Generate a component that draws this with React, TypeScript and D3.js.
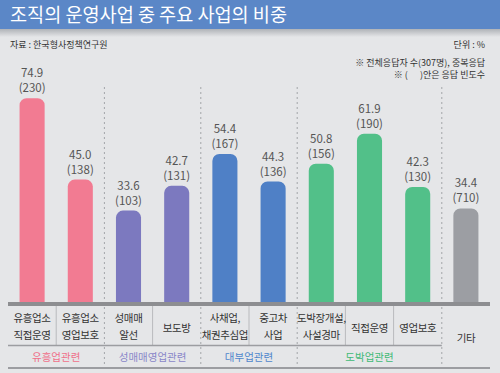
import { useMemo } from "react";
import * as d3 from "d3";

// values
const categories = [
  "유흥업소\n직접운영",
  "유흥업소\n영업보호",
  "성매매\n알선",
  "보도방",
  "사채업,\n채권추심업",
  "중고차\n사업",
  "도박장개설,\n사설경마",
  "직접운영",
  "영업보호",
  "기타",
];
const shares = [74.9, 45.0, 33.6, 42.7, 54.4, 44.3, 50.8, 61.9, 42.3, 34.4];
const counts = [230, 138, 103, 131, 167, 136, 156, 190, 130, 710];
const groupOf = [0, 0, 1, 1, 2, 2, 3, 3, 3, 4];
const groupNames = ["유흥업관련", "성매매영업관련", "대부업관련", "도박업관련", ""];
const groupColors = ["#f27b92", "#7c79bf", "#4f80c6", "#52c089", "#9c9ea3"];
const groupTextColors = ["#f0708a", "#8a86c8", "#4f86cc", "#3fba76", "#666"];

const W = 500;
const H = 373;
const FONT = "'Noto Sans CJK KR', 'Noto Sans', sans-serif";
const BG = "#e5e6e8";

const topRounded = (x: number, y: number, w: number, h: number, r: number) => {
  const p = d3.path();
  p.moveTo(x, y + h);
  p.lineTo(x, y + r);
  p.arcTo(x, y, x + r, y, r);
  p.lineTo(x + w - r, y);
  p.arcTo(x + w, y, x + w, y + r, r);
  p.lineTo(x + w, y + h);
  p.closePath();
  return p.toString();
};

export default function App() {
  const baseY = 302;
  const left = 8;
  const right = 490;

  const x = useMemo(
    () =>
      d3
        .scaleBand<number>()
        .domain(d3.range(categories.length))
        .range([left, right])
        .paddingInner(0.48)
        .paddingOuter(0.24),
    [],
  );
  const y = useMemo(() => d3.scaleLinear().domain([0, 80]).range([baseY, baseY - 80 * 2.72]), []);

  const step = x.step();
  const boundary = (i: number) => left + i * step;

  // boundaries between groups get dotted lines, inside groups solid
  const groupBounds: number[] = [];
  const innerBounds: number[] = [];
  for (let i = 1; i < categories.length; i++) {
    if (groupOf[i] !== groupOf[i - 1]) groupBounds.push(i);
    else innerBounds.push(i);
  }

  const groupSpans = d3.groups(d3.range(categories.length), (i) => groupOf[i]).map(([g, idx]) => ({
    g,
    x0: boundary(idx[0]),
    x1: boundary(idx[idx.length - 1] + 1),
  }));

  return (
    <svg
      width={W}
      height={H}
      style={{ position: "absolute", left: 0, top: 0, fontFamily: FONT }}
    >
      <defs>
        <linearGradient id="shade" x1="0" y1="0" x2="0" y2="1">
          <stop offset="0" stopColor="#a9acb1" />
          <stop offset="1" stopColor={BG} />
        </linearGradient>
      </defs>
      <rect width={W} height={H} fill={BG} />
      <rect y={28} width={W} height={9} fill="url(#shade)" />
      <rect width={W} height={29} fill="#5b87c7" />
      <text x={10} y={22} fill="#fff" fontSize={19} textLength={277} lengthAdjust="spacingAndGlyphs">
        조직의 운영사업 중 주요 사업의 비중
      </text>

      <text x={10} y={48} fontSize={9} fill="#333">
        자료 : 한국형사정책연구원
      </text>
      <text x={485} y={48} fontSize={9} fill="#333" textAnchor="end">
        단위 : %
      </text>
      <text x={485} y={66} fontSize={9} fill="#333" textAnchor="end">
        ※ 전체응답자 수(307명), 중복응답
      </text>
      <text x={485} y={78} fontSize={9} fill="#333" textAnchor="end" xmlSpace="preserve">
        ※ (      )안은 응답 빈도수
      </text>

      {/* group separators */}
      {groupBounds.map((i) => (
        <line
          key={"g" + i}
          x1={boundary(i)}
          x2={boundary(i)}
          y1={87}
          y2={366}
          stroke="#a3a5a9"
          strokeWidth={1}
          strokeDasharray="2,3"
        />
      ))}
      {innerBounds.map((i) => (
        <line key={"s" + i} x1={boundary(i)} x2={boundary(i)} y1={306} y2={345} stroke="#b9babd" />
      ))}

      {/* bars */}
      {shares.map((v, i) => {
        const bx = x(i)!;
        const bw = x.bandwidth();
        const top = y(v);
        return (
          <g key={i}>
            <path d={topRounded(bx, top, bw, baseY - top, 7)} fill={groupColors[groupOf[i]]} />
            <text x={bx + bw / 2} y={top - 21} textAnchor="middle" fontSize={11.5} fill="#555">
              {v.toFixed(1)}
            </text>
            <text x={bx + bw / 2} y={top - 6} textAnchor="middle" fontSize={11.5} fill="#555">
              ({counts[i]})
            </text>
          </g>
        );
      })}
      <rect x={left} y={baseY} width={right - left} height={4} fill="#8d8e91" />

      {/* category labels */}
      {categories.map((c, i) => {
        const lines = c.split("\n");
        const cx = x(i)! + x.bandwidth() / 2;
        const single = groupOf[i] === 4 ? 342 : 332;
        const startY = lines.length === 1 ? single : 322;
        return (
          <text key={c} x={cx} textAnchor="middle" fontSize={10.5} fill="#333" letterSpacing={-0.4}>
            {lines.map((l, k) => (
              <tspan key={k} x={cx} y={startY + k * 17}>
                {l}
              </tspan>
            ))}
          </text>
        );
      })}

      <line x1={left} x2={boundary(9)} y1={345.5} y2={345.5} stroke="#9c9da1" strokeWidth={1.5} />
      <line x1={left} x2={right} y1={368} y2={368} stroke="#9c9da1" strokeWidth={2} />

      {groupSpans.map((s) => (
        <text
          key={s.g}
          x={(s.x0 + s.x1) / 2}
          y={361}
          textAnchor="middle"
          fontSize={10.5}
          fill={groupTextColors[s.g]}
        >
          {groupNames[s.g]}
        </text>
      ))}
    </svg>
  );
}
